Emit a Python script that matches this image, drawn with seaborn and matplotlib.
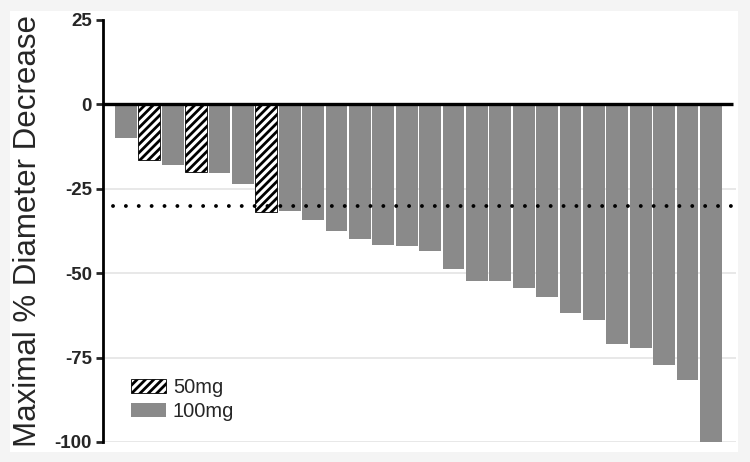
import seaborn as sns
import pandas as pd
import matplotlib.pyplot as plt
from matplotlib.patches import Patch, Rectangle

# ---------------------------- data ----------------------------
patients = [f"P{i}" for i in range(1, 27)]
change = [-10, -16.4, -17.9, -19.9, -20.4, -23.6, -32.0, -31.5, -34.2, -37.5,
          -40.0, -41.6, -41.9, -43.3, -48.7, -52.2, -52.2, -54.3, -57.1, -61.9,
          -63.9, -71.0, -72.3, -77.3, -81.6, -100]
dose = ["100mg", "50mg", "100mg", "50mg", "100mg", "100mg", "50mg"] + ["100mg"] * 19
dose_levels = ["50mg", "100mg"]
threshold = -30
yticks = [25, 0, -25, -50, -75, -100]

df = pd.DataFrame({"patient": patients, "change": change, "dose": dose})

# ---------------------------- style ----------------------------
sns.set_style("white")
plt.rcParams["font.family"] = ["Liberation Sans", "DejaVu Sans"]
plt.rcParams["hatch.linewidth"] = 2.0

fig = plt.figure(figsize=(7.5, 4.62), dpi=100, facecolor="#f4f4f4")
fig.add_artist(Rectangle((10 / 750, 10 / 462), 728 / 750, 441 / 462,
                         transform=fig.transFigure, facecolor="white",
                         edgecolor="none", zorder=-5))
ax = fig.add_axes([103 / 750, 20 / 462, 633 / 750, 422 / 462])
ax.set_facecolor("none")

# light grid lines below the zero line
ax.hlines([-25, -50, -75, -100], -0.98, 26.07, color="#e4e4e4", lw=1.2, zorder=0)

sns.barplot(data=df, x="patient", y="change", hue="dose", hue_order=dose_levels,
            palette={"50mg": "white", "100mg": "#8a8a8a"}, dodge=False,
            width=0.93, legend=False, saturation=1, ax=ax)

for bar in ax.containers[0]:
    bar.set_hatch("////")
    bar.set_edgecolor("black")
    bar.set_linewidth(0.6)
    bar.set_zorder(2)
for bar in ax.containers[1]:
    bar.set_edgecolor("none")
    bar.set_zorder(2)

# zero line and -30% threshold
ax.hlines(0, -0.98, 25.94, color="black", lw=2.4, zorder=3)
ax.plot([-0.55, 26.15], [threshold, threshold], color="black", lw=2.8,
        linestyle=(0, (0.01, 3.3)), dash_capstyle="round", clip_on=False, zorder=6)

ax.set_xlim(-0.98, 26.07)
ax.set_ylim(-100, 25)
ax.set_yticks(yticks)
ax.set_yticklabels([str(t) for t in yticks], fontweight="bold", fontsize=13.5)
ax.set_xticks([])
ax.set_xlabel("")
ax.set_ylabel("Maximal % Diameter Decrease", fontsize=22.5, labelpad=8)
ax.tick_params(axis="y", direction="out", length=5, width=2, pad=3, left=True)

for s in ["top", "right", "bottom"]:
    ax.spines[s].set_visible(False)
ax.spines["left"].set_linewidth(2)
ax.spines["left"].set_color("black")

handles = [Patch(facecolor="white", edgecolor="black", hatch="////", lw=0.6, label="50mg"),
           Patch(facecolor="#8a8a8a", edgecolor="none", label="100mg")]
ax.legend(handles=handles, loc="upper left", bbox_to_anchor=(0.031, 0.17),
          frameon=False, fontsize=14.5, handlelength=1.75, handleheight=0.7,
          handletextpad=0.35, labelspacing=0.25, borderaxespad=0)

fig.savefig("out.png", dpi=100, facecolor=fig.get_facecolor())
